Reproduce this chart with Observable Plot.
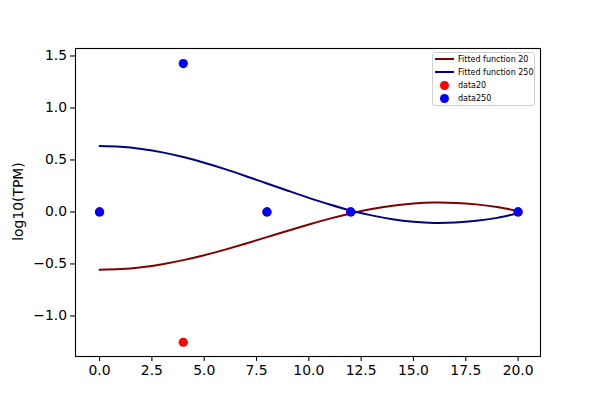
<!DOCTYPE html>
<html>
<head>
<meta charset="utf-8">
<script src="https://cdn.jsdelivr.net/npm/d3@7"></script>
<script src="https://cdn.jsdelivr.net/npm/@observablehq/plot@0.6"></script>
<style>
  html, body { margin: 0; padding: 0; background: white; }
  #wrap { position: relative; width: 600px; height: 400px; font-family: "DejaVu Sans", sans-serif; }
  #legend { position: absolute; left: 432px; top: 52px; width: 103px; height: 54px;
    border: 1px solid #d0d0d0; border-radius: 3px; background: rgba(255,255,255,0.8);
    box-sizing: border-box; font-size: 8px; color: black; }
  .row { position: absolute; left: 0; height: 12px; display: flex; align-items: center; }
  .sw { width: 20px; display: flex; justify-content: center; align-items: center; margin-left: 1px; margin-right: 4px; }
  .ln { width: 19px; height: 2px; }
  .dot { width: 9px; height: 9px; border-radius: 50%; }
</style>
</head>
<body>
<div id="wrap"></div>
<script>
// Fitted curves
const fitX = [0,1,2,3,4,5,6,7,8,9,10,11,12,13,14,15,16,17,18,19,20];
const fit20 = [-0.555,-0.549,-0.531,-0.502,-0.463,-0.416,-0.362,-0.303,-0.242,-0.180,-0.120,-0.064,-0.014,0.028,0.060,0.081,0.090,0.087,0.073,0.047,0.010];
const fit250 = [0.634,0.627,0.606,0.573,0.528,0.474,0.412,0.344,0.274,0.204,0.135,0.072,0.014,-0.033,-0.070,-0.094,-0.105,-0.101,-0.085,-0.057,-0.012];
// Data points
const ptX = [0,4,8,12,20];
const data20 = [0,-1.253,0,0,0];
const data250 = [0,1.427,0,0,0];
const xTicks = [0,2.5,5,7.5,10,12.5,15,17.5,20];
const yTicks = [-1.0,-0.5,0.0,0.5,1.0,1.5];

const line20 = fitX.map((x,i)=>({x, y: fit20[i]}));
const line250 = fitX.map((x,i)=>({x, y: fit250[i]}));
const pts20 = ptX.map((x,i)=>({x, y: data20[i]}));
const pts250 = ptX.map((x,i)=>({x, y: data250[i]}));

const fmt = d3.format(".1f");
const chart = Plot.plot({
  width: 600, height: 400,
  marginLeft: 75, marginRight: 60, marginTop: 48, marginBottom: 44,
  style: { fontFamily: "DejaVu Sans, sans-serif", fontSize: "13.9px", color: "black", background: "white", overflow: "visible" },
  x: { domain: [-1.15, 21.07] },
  y: { domain: [-1.39, 1.572] },
  marks: [
    Plot.axisX({ ticks: xTicks, tickFormat: fmt, tickSize: 4.9, tickPadding: 3.5, label: null, strokeWidth: 1.1 }),
    Plot.axisY({ ticks: yTicks, tickFormat: fmt, tickSize: 4.9, tickPadding: 3.5, label: null, strokeWidth: 1.1 }),
    Plot.line(line20, { x: "x", y: "y", stroke: "#800000", strokeWidth: 2, curve: "natural" }),
    Plot.line(line250, { x: "x", y: "y", stroke: "#000080", strokeWidth: 2, curve: "natural" }),
    Plot.dot(pts20, { x: "x", y: "y", r: 4.6, fill: "#ff0000" }),
    Plot.dot(pts250, { x: "x", y: "y", r: 4.6, fill: "#0000ff" }),
    Plot.frame({ stroke: "black", strokeWidth: 1.1 })
  ]
});
const wrap = document.getElementById("wrap");
wrap.appendChild(chart);
d3.select(chart).append("text")
  .attr("transform", "translate(19,201.5) rotate(-90)")
  .attr("text-anchor", "middle")
  .attr("dominant-baseline", "middle")
  .attr("fill", "black")
  .style("font-size", "13.9px")
  .text("log10(TPM)");

const legendItems = [
  { label: "Fitted function 20", type: "line", color: "#800000" },
  { label: "Fitted function 250", type: "line", color: "#000080" },
  { label: "data20", type: "dot", color: "#ff0000" },
  { label: "data250", type: "dot", color: "#0000ff" }
];
const leg = document.createElement("div");
leg.id = "legend";
legendItems.forEach((it, i) => {
  const row = document.createElement("div");
  row.className = "row";
  row.style.top = (0 + i * 13.2) + "px";
  const sw = document.createElement("div");
  sw.className = "sw";
  const m = document.createElement("div");
  m.className = it.type === "line" ? "ln" : "dot";
  m.style.background = it.color;
  sw.appendChild(m);
  const t = document.createElement("span");
  t.textContent = it.label;
  row.appendChild(sw);
  row.appendChild(t);
  leg.appendChild(row);
});
wrap.appendChild(leg);
</script>
</body>
</html>
